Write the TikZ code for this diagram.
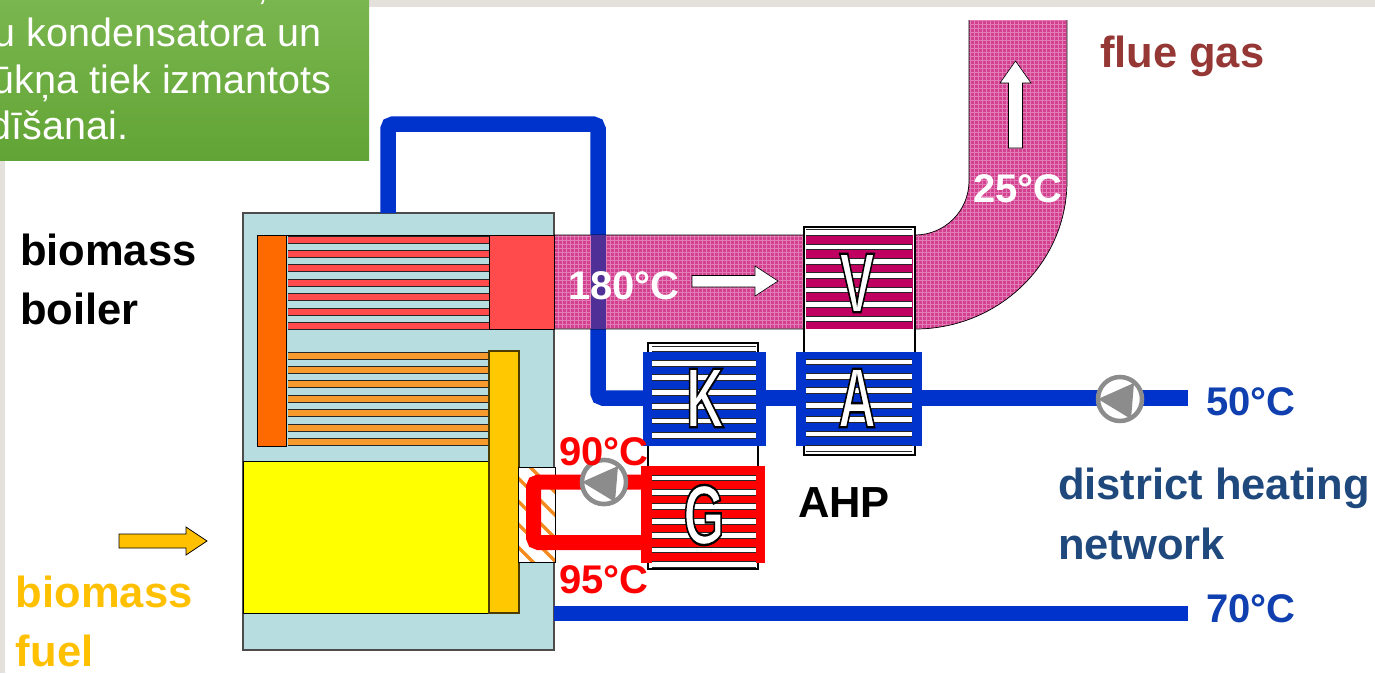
\documentclass[tikz,border=0pt]{standalone}
\usepackage{fontspec}
\setmainfont{Liberation Sans}
\usetikzlibrary{arrows.meta}
\definecolor{strip}{HTML}{E4E0DC}
\definecolor{gtop}{HTML}{7AB64F}
\definecolor{gbot}{HTML}{62A435}
\definecolor{boilerc}{HTML}{B8DDE1}
\definecolor{pipeb}{HTML}{0033CC}
\definecolor{piper}{HTML}{FF0000}
\definecolor{fluec}{HTML}{D2408F}
\definecolor{fluegrid}{HTML}{E27DB5}
\definecolor{vcol}{HTML}{C00060}
\definecolor{hotred}{HTML}{FF4B4B}
\definecolor{warm}{HTML}{F79A2E}
\definecolor{amber}{HTML}{FFC800}
\definecolor{deepor}{HTML}{FF6A00}
\definecolor{pumpg}{HTML}{8C8C8C}
\definecolor{netblue}{HTML}{1F497D}
\definecolor{tempblue}{HTML}{1040B0}
\definecolor{fluetxt}{HTML}{953735}
\definecolor{fuelc}{HTML}{FFC000}
\definecolor{firey}{HTML}{FFFF00}
\definecolor{hatchc}{HTML}{F58A1F}
\newcommand{\bfs}[1]{\fontsize{#1}{#1}\selectfont\bfseries}
\newcommand{\outl}[1]{\special{pdf:code q 2 Tr 2.4 w 0 0 0 RG 1 1 1 rg}#1\special{pdf:code Q}}
\tikzset{
  x=1pt,y=-1pt,
  pipeblue/.style={draw=pipeb,line width=15.5pt,rounded corners=5pt},
  pipered/.style={draw=piper,line width=15pt,rounded corners=5pt},
  block/.style={inner sep=0pt,outer sep=0pt,draw=none,rectangle},
  boxline/.style={draw=black,line width=1.4pt},
  lbl/.style={anchor=base west,inner sep=0pt,outer sep=0pt},
  greenlbl/.style={lbl,text=white,font=\fontsize{39.5}{39.5}\selectfont},
  bold43/.style={lbl,font=\bfs{43.5}},
  bold40/.style={lbl,font=\bfs{40}},
  letter/.style={inner sep=0pt,outer sep=0pt,font=\bfs{85},xscale=.62},
  pumpc/.style={circle,draw=pumpg,line width=4.5pt,fill=white,minimum size=44pt,inner sep=0pt,outer sep=0pt},
  whitearrow/.style={draw=black,line width=.6pt,fill=white},
}
\newcommand{\barsrow}[6]{% x1 x2 firsty count fill height
  \foreach \i in {1,...,#4}{
    \pgfmathsetmacro{\yy}{#3+(\i-1)*14.45}
    \fill[#5] (#1,\yy) rectangle (#2,\yy+#6);
    \draw[black!85,line width=.9pt] (#1,\yy) -- (#2,\yy) (#1,\yy+#6) -- (#2,\yy+#6);
  }}
\begin{document}
\begin{tikzpicture}
\useasboundingbox (0,0) rectangle (1375,673);
\fill[white] (0,0) rectangle (1375,673);
% page strips
\fill[strip] (369,0) rectangle (1375,7);
\fill[strip] (0,160) rectangle (5,673);

% boiler casing
\node[block,fill=boilerc,draw=black!70,line width=1.2pt,minimum width=311pt,minimum height=437pt] (boiler) at (398.5,431.5) {};
\coordinate (pipetop) at (388,213);
\coordinate (kin) at (643,398);

% return pipe behind the flue
\draw[pipeblue] (pipetop) -- (388,124) -- (598,124) -- (598,398) -- (kin);

% flue gas duct
\begin{scope}
\clip (554,235) -- (915,235) arc[start angle=-90,end angle=0,radius=54pt] -- (969,20) -- (1067,20) -- (1067,181) arc[start angle=0,end angle=-90,x radius=152pt,y radius=148pt] -- (554,329) -- cycle;
\fill[fluec] (554,20) rectangle (1067,329);
\foreach \k in {0,...,129}{\draw[fluegrid,line width=.7pt] (554+\k*4,20) -- (554+\k*4,329);}
\foreach \k in {0,...,78}{\draw[fluegrid,line width=.7pt] (554,20+\k*4) -- (1067,20+\k*4);}
\end{scope}
\draw[black,line width=.7pt] (554,235) -- (915,235) arc[start angle=-90,end angle=0,radius=54pt] -- (969,20);
\draw[black,line width=.7pt] (1067,20) -- (1067,181) arc[start angle=0,end angle=-90,x radius=152pt,y radius=148pt] -- (554,329);
\fill[fluec!45!pipeb!85!black] (590.5,235) rectangle (605.5,329);

% flue chamber and tube bank, top
\fill[boilerc] (286,235) rectangle (489,329);
\barsrow{288}{489}{236}{7}{hotred}{7}
\draw[black,line width=1pt] (286,235) -- (489,235);
\node[block,fill=hotred,draw=black,line width=1pt,minimum width=65pt,minimum height=94pt] (chamber) at (521.5,282) {};
% tube bank, bottom
\barsrow{288}{489}{352}{7}{warm}{7}
% header
\node[block,fill=deepor,draw=black,line width=1pt,minimum width=29pt,minimum height=211pt] (header) at (271.5,340.5) {};
% furnace
\node[block,fill=firey,draw=black,line width=1pt,minimum width=246pt,minimum height=152pt] (furnace) at (366,537) {};
\node[block,fill=amber,draw=black!70!amber,line width=1.2pt,minimum width=30pt,minimum height=262pt] (collector) at (504,482) {};

% hatched exchanger
\begin{scope}
\clip (518,467) rectangle (555,562);
\fill[white] (518,467) rectangle (555,562);
\foreach \k in {0,...,5}{\draw[hatchc,line width=3.2pt] (495,432+\k*23) -- (575,512+\k*23);}
\end{scope}
\node[block,draw=black,line width=1pt,minimum width=37pt,minimum height=95pt] (hatch) at (536.5,514.5) {};

% lower network pipe
\coordinate (outlow) at (1188,613.5);
\draw[pipeblue] (554,613.5) -- (outlow);

% AHP frames
\node[block,fill=white,boxline,minimum width=110pt,minimum height=226pt] (frameL) at (703,456) {};
\node[block,fill=white,boxline,minimum width=111pt,minimum height=228pt] (frameR) at (859.5,341) {};

% heat exchanger blocks
\node[block,fill=pipeb,minimum width=123pt,minimum height=94pt] (kblock) at (704.5,399) {};
\node[block,fill=piper,minimum width=124pt,minimum height=97pt] (gblock) at (703,514.5) {};
\node[block,fill=vcol,minimum width=107pt,minimum height=94pt] (vblock) at (859.5,282) {};
\node[block,fill=pipeb,minimum width=126pt,minimum height=94pt] (ablock) at (859,399) {};

% white tube stripes
\barsrow{652}{756}{346}{7}{white}{5.6}
\barsrow{652}{756}{475}{7}{white}{5.6}
\barsrow{806}{912}{229.5}{7}{white}{5.6}
\barsrow{806}{912}{359}{7}{white}{5.6}

% block connecting pipes
\draw[pipeblue] (kblock.east |- 0,398) -- (ablock.west |- 0,398);
\draw[pipeblue] (ablock.east |- 0,398) -- (1188,398);
% hot water loop
\node[pumpc] (pumpA) at (604,482) {};
\coordinate (gtop) at (641,482);
\coordinate (gbot) at (641,542.5);
\draw[pipered] (gtop) -- (pumpA.center) -- (533.5,482) -- (533.5,542.5) -- (gbot);
\node[pumpc] (pumpA) at (604,482) {};
\fill[pumpg] (582,482) -- (618,466) -- (615,502) -- cycle;
\node[pumpc] (pumpB) at (1120,399) {};
\fill[pumpg] (1098,399) -- (1134,383) -- (1131,419) -- cycle;

% letters
\node[letter] (lK) at (705,398) {\outl{K}};
\node[letter] (lG) at (704,515) {\outl{G}};
\node[letter] (lV) at (857,283) {\outl{V}};
\node[letter] (lA) at (857,398) {\outl{A}};

% arrows
\draw[whitearrow] (692,275.5) -- (755,275.5) -- (755,266) -- (778,281) -- (755,296) -- (755,287) -- (692,287) -- cycle;
\draw[whitearrow] (1008.5,148) -- (1008.5,83) -- (1000,83) -- (1015.5,61) -- (1031,83) -- (1022.5,83) -- (1022.5,148) -- cycle;
\draw[draw=black,line width=.8pt,fill=fuelc] (119,534) -- (186,534) -- (186,527) -- (207,541) -- (186,555) -- (186,548) -- (119,548) -- cycle;

% green callout
\shade[top color=gtop,bottom color=gbot] (0,0) rectangle (369,160);
\node[greenlbl] (g0) at (257,-1) {,};
\node[greenlbl] (g1) at (-6,46) {u kondensatora un};
\node[greenlbl] (g2) at (-7,93) {ūkņa tiek izmantots};
\node[greenlbl] (g3) at (-10,139) {dīšanai.};

% labels
\node[bold43,text=black] (t1) at (20,265) {biomass};
\node[bold43,text=black] (t2) at (20,324) {boiler};
\node[bold43,text=fuelc] (t3) at (16,607) {biomass};
\node[bold43,text=fuelc] (t4) at (16,666) {fuel};
\node[bold43,text=fluetxt] (t5) at (1100,67) {flue gas};
\node[bold43,text=netblue] (t6) at (1058,499) {district heating};
\node[bold43,text=netblue] (t7) at (1058,559) {network};
\node[bold40,text=tempblue] (t8) at (1206,415) {50°C};
\node[bold40,text=tempblue] (t9) at (1206,622) {70°C};
\node[bold43,text=black] (t10) at (798,517) {AHP};
\node[bold40,text=white] (t11) at (568,299) {180°C};
\node[bold40,text=white] (t12) at (973,202) {25°C};
\node[bold40,text=piper] (t13) at (559,465) {90°C};
\node[bold40,text=piper] (t14) at (559,593) {95°C};
\end{tikzpicture}
\end{document}
